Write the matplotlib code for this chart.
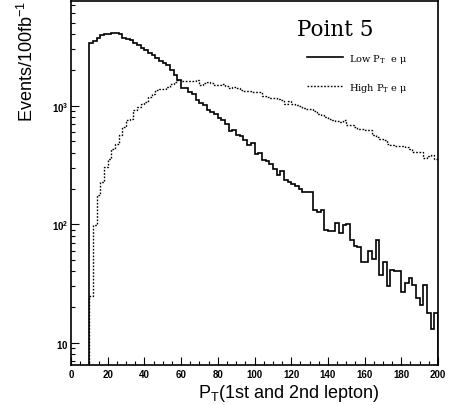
import numpy as np
import matplotlib
matplotlib.use("Agg")
import matplotlib.pyplot as plt
from matplotlib.ticker import LogLocator, NullFormatter

plt.rcParams['font.family'] = ['Liberation Sans', 'DejaVu Sans']
plt.rcParams['mathtext.fontset'] = 'custom'
plt.rcParams['mathtext.rm'] = 'Liberation Sans'
plt.rcParams['mathtext.it'] = 'Liberation Sans:italic'
plt.rcParams['mathtext.bf'] = 'Liberation Sans:bold'

# histogram bins: 2 GeV wide, 10..200
edges = np.arange(10, 202, 2)

low_pt = [3400, 3500, 3750, 3950, 3980, 4050, 4060, 4080, 4000, 3750,
          3650, 3560, 3380, 3250, 3070, 2930, 2800, 2660, 2520, 2380,
          2300, 2190, 1990, 1800, 1640, 1420, 1400, 1300, 1250, 1110,
          1060, 1006, 920, 880, 850, 780, 760, 705, 610, 625,
          570, 555, 510, 462, 480, 388, 401, 345, 340, 320,
          294, 262, 280, 234, 228, 220, 210, 200, 187, 186,
          187, 131, 127, 133, 90, 88, 87, 103, 85, 98,
          100, 74, 66, 64, 48, 48, 60, 51, 74, 37,
          48, 30, 41, 40, 40, 27, 32, 35, 31, 24,
          21, 31, 18, 13, 18]

high_pt = [25, 98, 175, 227, 304, 357, 434, 478, 562, 661,
           752, 777, 913, 975, 1030, 1075, 1183, 1262, 1346, 1373,
           1373, 1440, 1533, 1585, 1635, 1605, 1605, 1620, 1610, 1635,
           1503, 1540, 1585, 1560, 1484, 1500, 1530, 1450, 1410, 1430,
           1400, 1346, 1330, 1320, 1305, 1300, 1305, 1207, 1190, 1161,
           1150, 1130, 1120, 1040, 1087, 1040, 1006, 1000, 956, 945,
           944, 900, 856, 840, 800, 777, 760, 740, 728, 752,
           690, 682, 660, 640, 635, 625, 619, 569, 544, 527,
           510, 478, 470, 460, 457, 455, 450, 430, 407, 410,
           410, 362, 375, 381, 357]

x_ticks = list(range(0, 201, 20))
y_ticks = [10, 100, 1000]
y_tick_labels = [r'$\mathbf{10}$', r'$\mathbf{10}^{\mathbf{2}}$', r'$\mathbf{10}^{\mathbf{3}}$']
legend_labels = [r'Low P$_\mathrm{T}$  e μ', r'High P$_\mathrm{T}$ e μ']

fig = plt.figure(figsize=(4.5, 4.06), dpi=100)
ax = fig.add_axes([71 / 450, 1 - 366 / 406, 367 / 450, 364.5 / 406])
ax.set_yscale('log')

ax.stairs(low_pt, edges, baseline=1, color='black', linewidth=1.2)
ax.stairs(high_pt, edges, baseline=1, color='black', linewidth=1.0,
          linestyle=(0, (1.2, 1.2)))

ax.set_xlim(0, 200)
ax.set_ylim(6.5, 7700)

ax.set_xticks(x_ticks)
ax.set_xticks(range(0, 201, 5), minor=True)
ax.set_yticks(y_ticks, labels=y_tick_labels)
ax.yaxis.set_minor_locator(LogLocator(base=10, subs=range(2, 10)))
ax.yaxis.set_minor_formatter(NullFormatter())
ax.tick_params(which='both', direction='in', top=False, right=False, width=0.8)
ax.tick_params(which='major', length=6)
ax.tick_params(which='minor', length=3)
ax.tick_params(axis='x', labelsize=7, pad=3)
ax.tick_params(axis='y', labelsize=7, pad=2)
for lab in ax.get_xticklabels():
    lab.set_fontweight('bold')
for sp in ax.spines.values():
    sp.set_linewidth(1.2)

# axis titles
ax.text(0.594, -0.088, r'P$_\mathrm{T}$(1st and 2nd lepton)', transform=ax.transAxes,
        ha='center', va='baseline', fontsize=13)
fig.text(27 / 450, 1 - 1 / 406, r'Events/100fb$^{-1}$', rotation=90,
         ha='center', va='top', fontsize=13)

# legend block
ax.text(0.616, 0.9066, 'Point 5', transform=ax.transAxes, ha='left', va='baseline',
        fontsize=15.5, family='DejaVu Serif')
ax.plot([0.643, 0.741], [0.846, 0.846], transform=ax.transAxes, color='black',
        linewidth=1.2)
ax.plot([0.643, 0.741], [0.7665, 0.7665], transform=ax.transAxes, color='black',
        linewidth=1.0, linestyle=(0, (1.2, 1.2)))
ax.text(0.7575, 0.835, legend_labels[0], transform=ax.transAxes, ha='left',
        va='baseline', fontsize=7, family='DejaVu Serif', math_fontfamily='dejavuserif')
ax.text(0.7575, 0.7555, legend_labels[1], transform=ax.transAxes, ha='left',
        va='baseline', fontsize=7, family='DejaVu Serif', math_fontfamily='dejavuserif')

fig.savefig('out.png', dpi=100)
